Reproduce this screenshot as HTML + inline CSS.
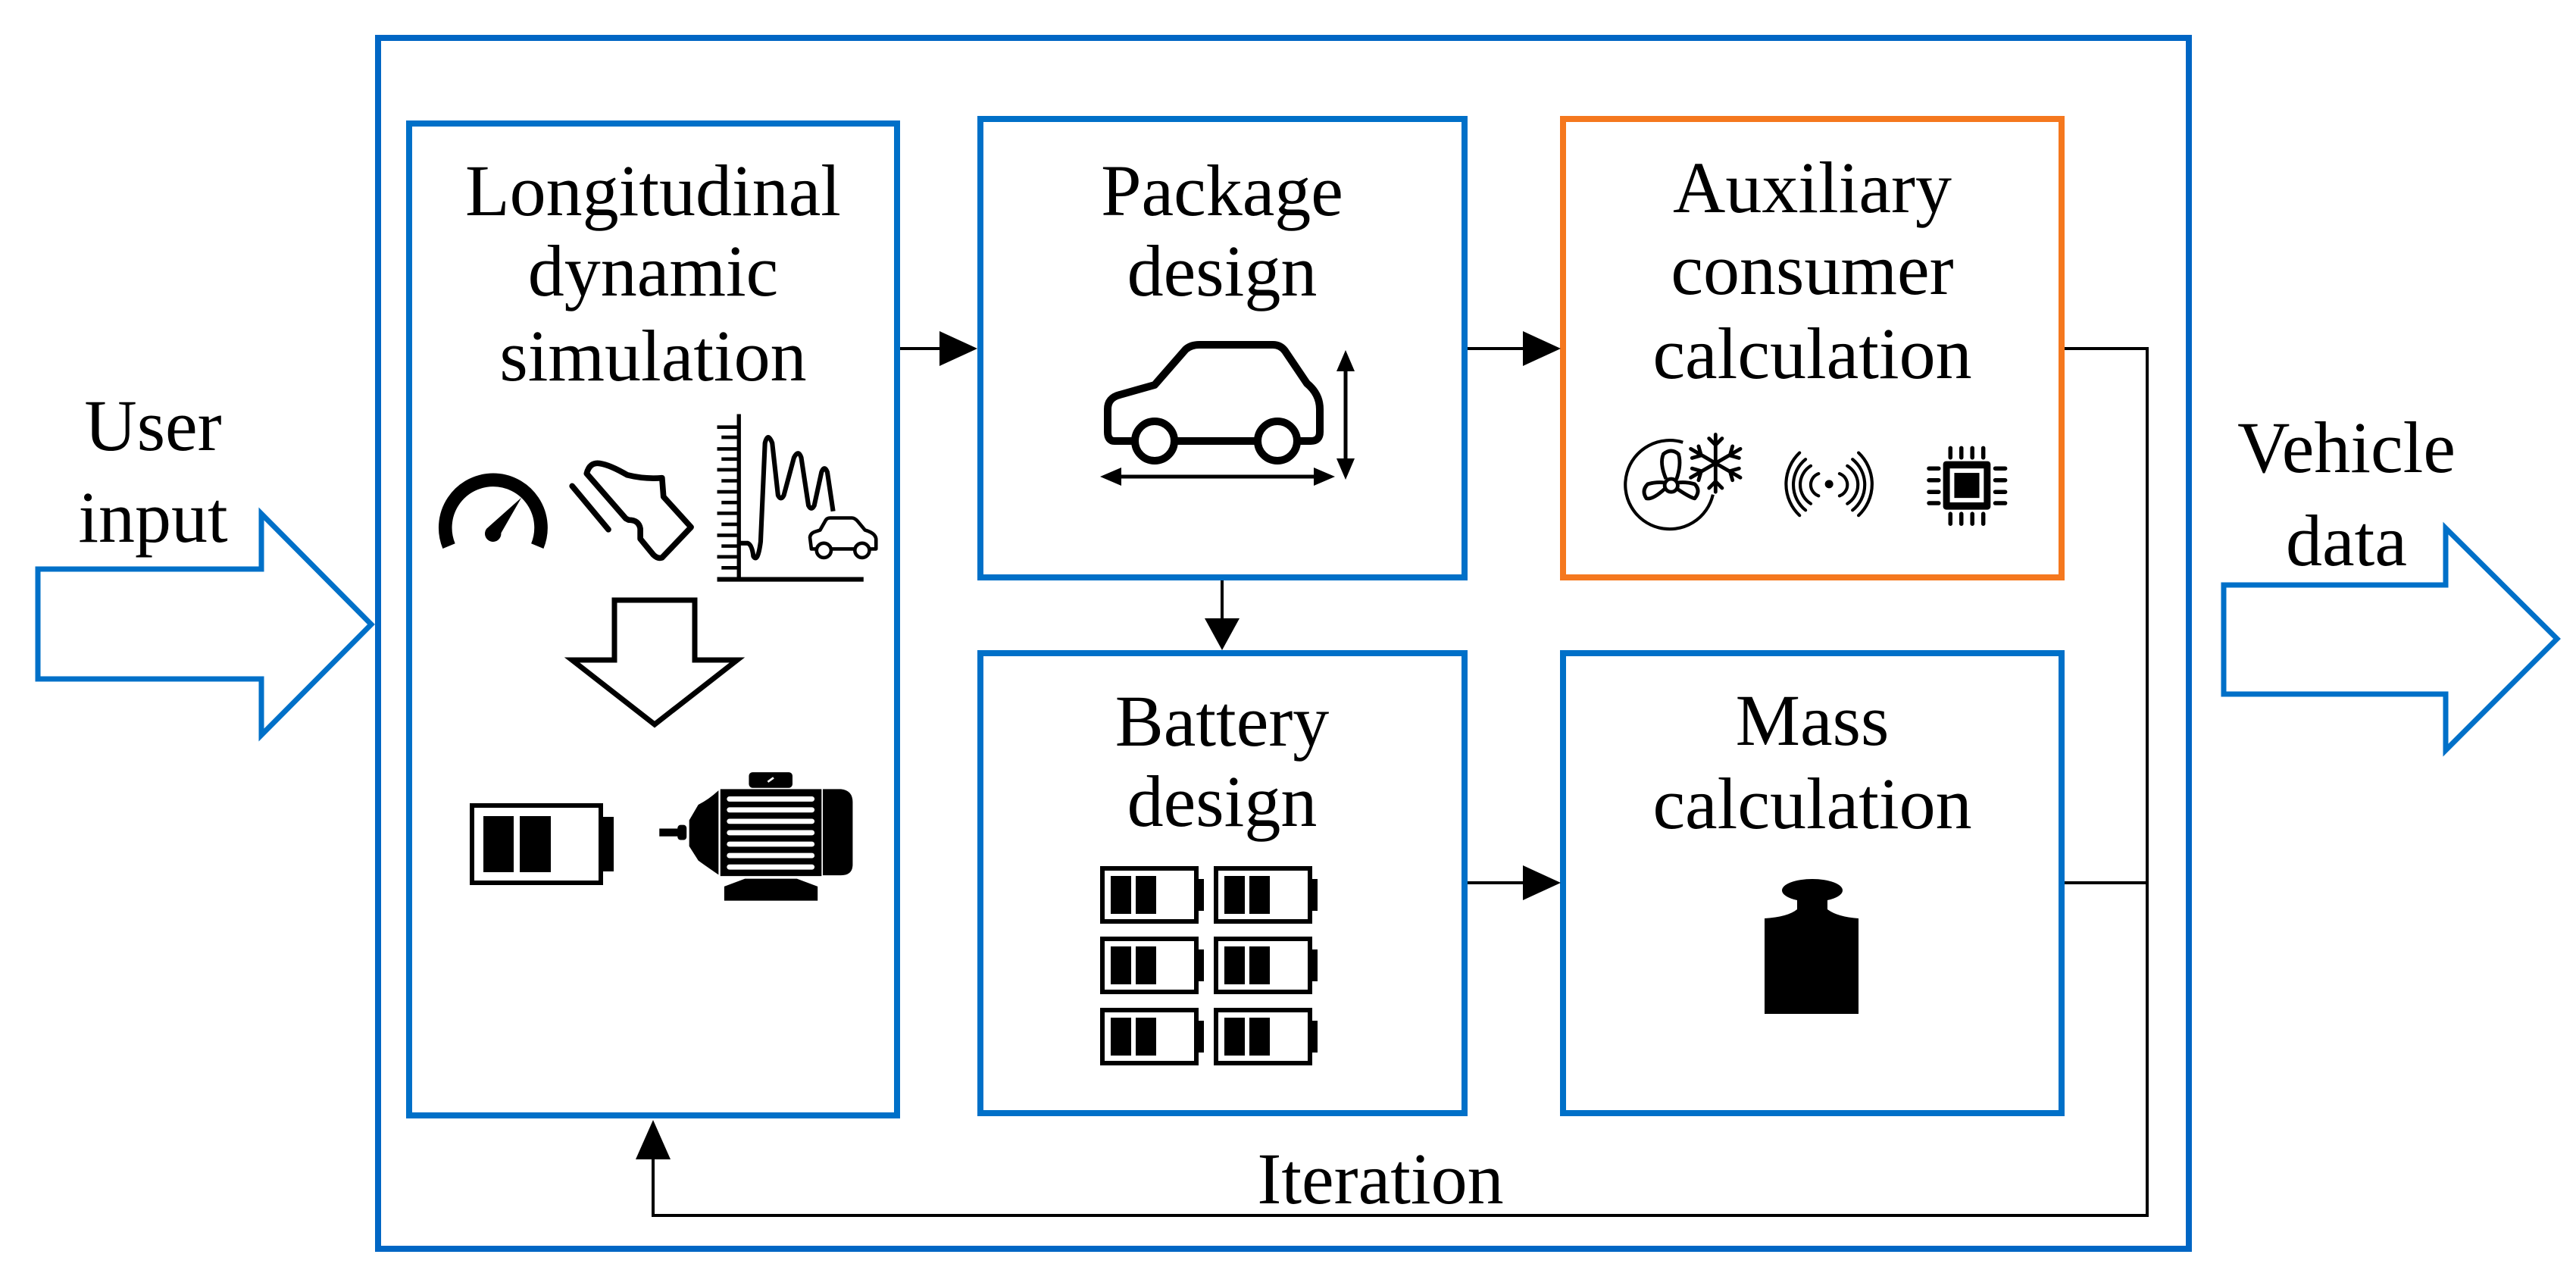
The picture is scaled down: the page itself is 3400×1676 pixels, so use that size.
<!DOCTYPE html>
<html><head><meta charset="utf-8"><style>
html,body{margin:0;padding:0;background:#fff;}
svg{display:block;}
text{font-family:"Liberation Serif",serif;fill:#000;}
</style></head><body>
<svg width="3400" height="1676" viewBox="0 0 3400 1676" xmlns="http://www.w3.org/2000/svg">
<!-- outer box -->
<rect x="499" y="50" width="2390" height="1598" fill="none" stroke="#0066c4" stroke-width="8"/>
<!-- boxes -->
<rect x="540" y="163" width="644" height="1309" fill="none" stroke="#0070c8" stroke-width="8"/>
<rect x="1294" y="157" width="639" height="605" fill="none" stroke="#0070c8" stroke-width="8"/>
<rect x="1294" y="862" width="639" height="607" fill="none" stroke="#0070c8" stroke-width="8"/>
<rect x="2063" y="157" width="658" height="605" fill="none" stroke="#f5781e" stroke-width="8"/>
<rect x="2063" y="862" width="658" height="607" fill="none" stroke="#0070c8" stroke-width="8"/>

<!-- big arrows -->
<polygon points="50,751 345,751 345,678 490,824 345,970 345,896 50,896" fill="none" stroke="#0070c8" stroke-width="7"/>
<polygon points="2935,772 3228,772 3228,697 3375,843 3228,990 3228,916 2935,916" fill="none" stroke="#0070c8" stroke-width="7"/>

<!-- connectors -->
<g stroke="#000" stroke-width="4" fill="none">
<line x1="1188" y1="460" x2="1250" y2="460"/>
<line x1="1937" y1="460" x2="2020" y2="460"/>
<line x1="1613" y1="766" x2="1613" y2="820"/>
<line x1="1937" y1="1165" x2="2020" y2="1165"/>
<polyline points="2725,460 2834,460 2834,1604 862,1604 862,1520"/>
<line x1="2725" y1="1165" x2="2834" y2="1165"/>
</g>
<g fill="#000">
<polygon points="1240,437 1290,460 1240,483"/>
<polygon points="2010,437 2060,460 2010,483"/>
<polygon points="1590,816 1613,858 1636,816"/>
<polygon points="2010,1142 2060,1165 2010,1188"/>
<polygon points="839,1530 862,1478 885,1530"/>
</g>

<!-- texts -->
<g font-size="96" text-anchor="middle">
<text x="862" y="284">Longitudinal</text>
<text x="862" y="390">dynamic</text>
<text x="862" y="502">simulation</text>
<text x="1613" y="284">Package</text>
<text x="1613" y="390">design</text>
<text x="1613" y="984">Battery</text>
<text x="1613" y="1090">design</text>
<text x="2392" y="280">Auxiliary</text>
<text x="2392" y="388">consumer</text>
<text x="2392" y="499">calculation</text>
<text x="2392" y="983">Mass</text>
<text x="2392" y="1093">calculation</text>
<text x="1822" y="1588">Iteration</text>
<text x="202" y="594">User</text>
<text x="202" y="715">input</text>
<text x="3097" y="623">Vehicle</text>
<text x="3097" y="746">data</text>
</g>

<!-- LDS icons -->
<g transform="translate(560,535) scale(0.3827)">
  <path d="M 85 485 A 165 165 0 1 1 390 485" fill="none" stroke="#000" stroke-width="46"/>
  <path d="M 215 425 L 335 318 L 265 440 A 28 28 0 1 1 215 425 Z" fill="#000"/>
  <line x1="510" y1="278" x2="635" y2="428" stroke="#000" stroke-width="20" stroke-linecap="round"/>
  <path d="M 560 235 Q 570 195 605 200 Q 640 205 700 240 Q 760 255 820 250 L 825 315 L 920 420 L 820 525 Q 805 530 790 515 L 745 460 L 745 425 Q 740 395 705 395 L 695 390 Z" fill="none" stroke="#000" stroke-width="20" stroke-linejoin="round"/>
  <line x1="1085" y1="30" x2="1085" y2="605" stroke="#000" stroke-width="14"/>
  <line x1="1010" y1="600" x2="1515" y2="600" stroke="#000" stroke-width="16"/>
  <g stroke="#000" stroke-width="12">
    <line x1="1010" y1="75" x2="1085" y2="75"/><line x1="1025" y1="110" x2="1085" y2="110"/>
    <line x1="1010" y1="150" x2="1085" y2="150"/><line x1="1025" y1="185" x2="1085" y2="185"/>
    <line x1="1010" y1="222" x2="1085" y2="222"/><line x1="1025" y1="260" x2="1085" y2="260"/>
    <line x1="1010" y1="298" x2="1085" y2="298"/><line x1="1025" y1="335" x2="1085" y2="335"/>
    <line x1="1010" y1="372" x2="1085" y2="372"/><line x1="1025" y1="410" x2="1085" y2="410"/>
    <line x1="1010" y1="448" x2="1085" y2="448"/><line x1="1025" y1="485" x2="1085" y2="485"/>
    <line x1="1010" y1="522" x2="1085" y2="522"/><line x1="1025" y1="560" x2="1085" y2="560"/>
  </g>
  <path d="M 1090 475 L 1115 475 Q 1130 480 1135 520 Q 1150 545 1160 470 L 1175 130 Q 1185 90 1200 130 L 1220 310 Q 1230 330 1240 310 L 1275 180 Q 1290 150 1300 180 L 1325 345 Q 1335 365 1345 345 L 1370 230 Q 1380 205 1390 230 L 1410 365" fill="none" stroke="#000" stroke-width="16"/>
  <path d="M 1335 495 L 1330 455 Q 1332 440 1350 435 L 1365 430 L 1385 395 Q 1390 388 1400 388 L 1475 388 Q 1485 388 1495 400 L 1520 430 Q 1555 440 1558 460 L 1558 495 Z" fill="none" stroke="#000" stroke-width="12" stroke-linejoin="round"/>
  <circle cx="1378" cy="500" r="25" fill="#fff" stroke="#000" stroke-width="12"/>
  <circle cx="1510" cy="500" r="25" fill="#fff" stroke="#000" stroke-width="12"/>
</g>
<!-- hollow down arrow -->
<polygon points="811,792 917,792 917,871 973,871 864,956 755,871 811,871" fill="none" stroke="#000" stroke-width="7"/>
<!-- battery -->
<g transform="translate(0,-20)">
<rect x="623" y="1083" width="170" height="102" fill="none" stroke="#000" stroke-width="6"/>
<rect x="793" y="1098" width="17" height="72" fill="#000"/>
<rect x="638" y="1097" width="40" height="74" fill="#000"/>
<rect x="686" y="1097" width="41" height="74" fill="#000"/>
</g>
<!-- motor -->
<g transform="translate(860,1014) scale(0.3425)">
  <rect x="375" y="15" width="168" height="60" rx="14" fill="#000"/>
  <rect x="265" y="80" width="390" height="335" fill="#000"/>
  <path d="M 660 80 L 730 80 Q 775 85 775 130 L 775 370 Q 775 412 730 412 L 660 412 Z" fill="#000"/>
  <path d="M 258 85 L 258 410 Q 200 370 180 355 L 145 300 L 145 200 L 180 140 Q 220 120 258 85 Z" fill="#000"/>
  <rect x="30" y="232" width="90" height="30" fill="#000"/>
  <rect x="100" y="218" width="35" height="58" rx="12" fill="#000"/>
  <path d="M 280 455 L 360 425 L 560 425 L 640 455 L 640 510 L 280 510 Z" fill="#000"/>
  <g stroke="#fff" stroke-width="20" stroke-linecap="round">
    <line x1="300" y1="118" x2="618" y2="118"/><line x1="300" y1="160" x2="618" y2="160"/>
    <line x1="300" y1="204" x2="618" y2="204"/><line x1="300" y1="248" x2="618" y2="248"/>
    <line x1="300" y1="292" x2="618" y2="292"/><line x1="300" y1="336" x2="618" y2="336"/>
    <line x1="300" y1="380" x2="618" y2="380"/>
  </g>
  <line x1="448" y1="52" x2="470" y2="36" stroke="#fff" stroke-width="8"/>
</g>

<!-- package car -->
<g fill="none" stroke="#000" stroke-width="10" stroke-linejoin="round">
  <path d="M 1471 582 Q 1462 582 1462 570 L 1462 540 Q 1462 525 1478 521 L 1524 508 L 1565 461 Q 1572 455 1583 455 L 1680 455 Q 1690 455 1696 463 L 1725 506 Q 1742 520 1742 540 L 1742 570 Q 1742 582 1730 582 Z"/>
</g>
<circle cx="1524" cy="582" r="26" fill="#fff" stroke="#000" stroke-width="10"/>
<circle cx="1686" cy="582" r="26" fill="#fff" stroke="#000" stroke-width="10"/>
<line x1="1470" y1="629" x2="1745" y2="629" stroke="#000" stroke-width="5"/>
<polygon points="1452,629 1480,617 1480,641" fill="#000"/>
<polygon points="1762,629 1734,617 1734,641" fill="#000"/>
<line x1="1776" y1="480" x2="1776" y2="615" stroke="#000" stroke-width="5"/>
<polygon points="1776,462 1764,490 1788,490" fill="#000"/>
<polygon points="1776,633 1764,605 1788,605" fill="#000"/>

<!-- battery grid -->
<g>
  <g id="bt"><rect x="1455" y="1146" width="124" height="70" fill="none" stroke="#000" stroke-width="6"/><rect x="1579" y="1160" width="10" height="42" fill="#000"/><rect x="1466" y="1156" width="27" height="50" fill="#000"/><rect x="1499" y="1156" width="27" height="50" fill="#000"/></g>
  <use href="#bt" x="150" y="0"/>
  <use href="#bt" x="0" y="93"/>
  <use href="#bt" x="150" y="93"/>
  <use href="#bt" x="0" y="187"/>
  <use href="#bt" x="150" y="187"/>
</g>

<!-- aux icons -->
<g transform="translate(2130,570) scale(0.3444)">
  <path d="M 380 240 A 170 170 0 1 1 265 40" fill="none" stroke="#000" stroke-width="12"/>
  <g fill="none" stroke="#000" stroke-width="14" stroke-linejoin="round">
    <circle cx="220" cy="205" r="25"/>
    <path d="M 200 180 Q 175 120 190 85 Q 220 60 248 85 Q 260 125 240 182"/>
    <path d="M 195 218 Q 150 260 125 255 Q 105 225 130 200 Q 165 190 197 195"/>
    <path d="M 243 218 Q 290 250 310 255 Q 335 225 310 200 Q 275 190 243 195"/>
  </g>
  <g stroke="#000" stroke-width="14" stroke-linecap="round" fill="none">
    <line x1="390" y1="10" x2="390" y2="230"/>
    <line x1="295" y1="65" x2="485" y2="175"/>
    <line x1="295" y1="175" x2="485" y2="65"/>
    <polyline points="365,25 390,50 415,25"/><polyline points="365,215 390,190 415,215"/>
    <polyline points="300,100 335,90 325,55"/><polyline points="480,140 445,150 455,185"/>
    <polyline points="300,140 335,150 325,185"/><polyline points="480,100 445,90 455,55"/>
  </g>
  <g fill="none" stroke="#000" stroke-width="12" stroke-linecap="round">
    <path d="M 785 160 A 45 45 0 0 0 785 245"/><path d="M 865 160 A 45 45 0 0 1 865 245"/>
    <path d="M 755 130 A 85 85 0 0 0 755 275"/><path d="M 895 130 A 85 85 0 0 1 895 275"/>
    <path d="M 735 105 A 125 125 0 0 0 735 300"/><path d="M 915 105 A 125 125 0 0 1 915 300"/>
    <path d="M 712 80 A 165 165 0 0 0 712 320"/><path d="M 938 80 A 165 165 0 0 1 938 320"/>
  </g>
  <circle cx="825" cy="200" r="16" fill="#000"/>
  <rect x="1262" y="112" width="182" height="186" rx="12" fill="#000"/>
  <rect x="1288" y="140" width="130" height="130" fill="#fff"/>
  <rect x="1305" y="157" width="96" height="96" fill="#000"/>
  <g stroke="#000" stroke-width="16" stroke-linecap="round">
    <line x1="1290" y1="62" x2="1290" y2="98"/><line x1="1332" y1="62" x2="1332" y2="98"/><line x1="1374" y1="62" x2="1374" y2="98"/><line x1="1416" y1="62" x2="1416" y2="98"/>
    <line x1="1290" y1="314" x2="1290" y2="352"/><line x1="1332" y1="314" x2="1332" y2="352"/><line x1="1374" y1="314" x2="1374" y2="352"/><line x1="1416" y1="314" x2="1416" y2="352"/>
    <line x1="1208" y1="140" x2="1245" y2="140"/><line x1="1208" y1="185" x2="1245" y2="185"/><line x1="1208" y1="230" x2="1245" y2="230"/><line x1="1208" y1="273" x2="1245" y2="273"/>
    <line x1="1462" y1="140" x2="1500" y2="140"/><line x1="1462" y1="185" x2="1500" y2="185"/><line x1="1462" y1="230" x2="1500" y2="230"/><line x1="1462" y1="273" x2="1500" y2="273"/>
  </g>
</g>

<!-- weight -->
<ellipse cx="2392" cy="1175" rx="40" ry="15" fill="#000"/>
<path d="M 2372 1182 L 2412 1182 L 2412 1200 Q 2425 1210 2453 1212 L 2453 1338 L 2329 1338 L 2329 1212 Q 2360 1210 2372 1200 Z" fill="#000"/>
</svg>
</body></html>
